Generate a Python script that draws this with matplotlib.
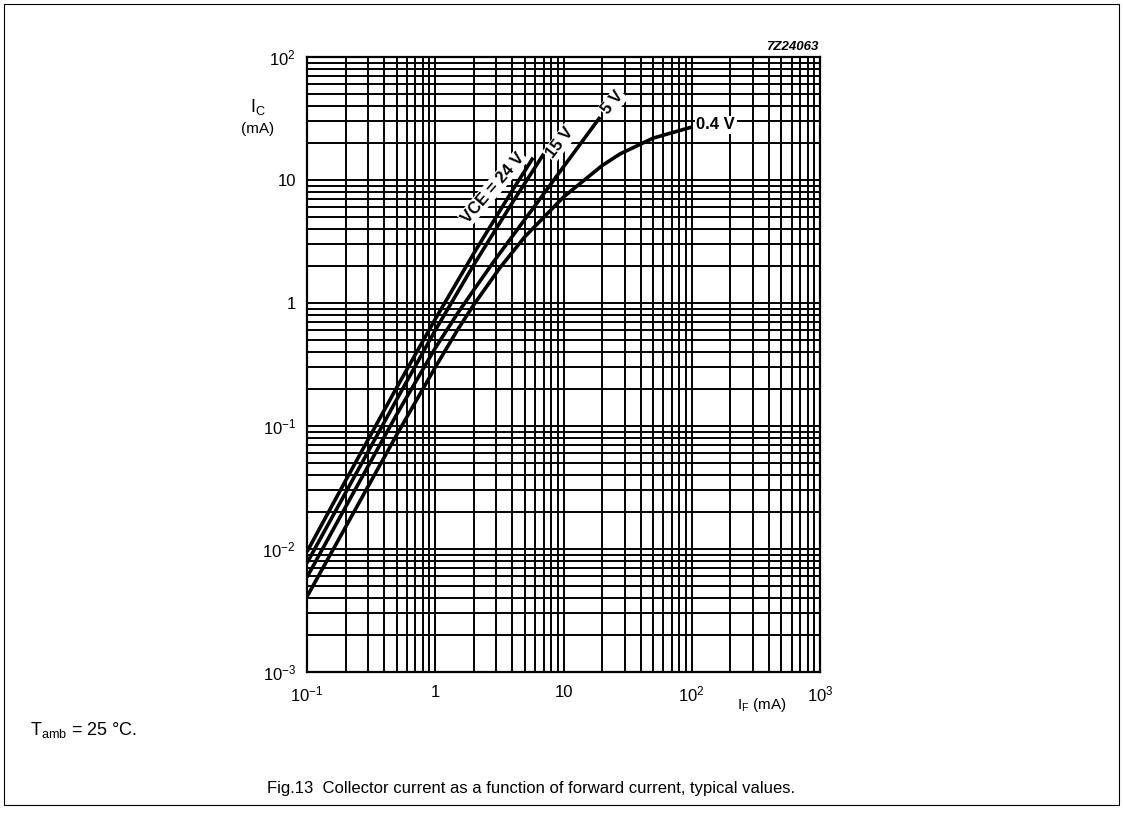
import matplotlib
matplotlib.use("Agg")
import matplotlib.pyplot as plt
from matplotlib.ticker import FixedLocator, FixedFormatter, NullFormatter, LogLocator
from matplotlib.patches import Rectangle


plt.rcParams['font.family'] = ['Liberation Sans', 'DejaVu Sans']
plt.rcParams['mathtext.fontset'] = 'custom'
plt.rcParams['mathtext.rm'] = 'Liberation Sans'
plt.rcParams['mathtext.it'] = 'Liberation Sans'
plt.rcParams['mathtext.default'] = 'regular'


# Curves (IF in mA, IC in mA)

if_24v = [0.1, 0.2, 0.5, 1, 2, 4, 5.8]
ic_24v = [0.0095, 0.036, 0.205, 0.74, 2.54, 8.25, 15.2]

if_15v = [0.1, 0.2, 0.5, 1, 2, 4, 7.4]
ic_15v = [0.0077, 0.0287, 0.164, 0.60, 2.05, 6.57, 17.8]

if_5v = [0.1, 0.2, 0.5, 1, 1.5, 2, 3, 5.8, 10, 19.3]
ic_5v = [0.0059, 0.022, 0.124, 0.43, 0.83, 1.28, 2.33, 5.9, 12.8, 32.5]

if_04v = [0.1, 0.2, 0.5, 1, 1.5, 2, 3.2, 5, 10, 20, 27.6, 50, 102]
ic_04v = [0.0041, 0.0151, 0.0846, 0.30, 0.61, 0.97, 1.94, 3.46, 7.27, 13.1, 16.3, 21.9, 27.1]

curve_labels = ["VCE = 24 V", "15 V", "5 V", "0.4 V"]
label_x   = [2.82, 9.4, 24.3, 154]
label_y   = [8.6, 20, 42.3, 28]
label_rot = [49, 52, 50, 0]

x_ticks = [0.1, 1, 10, 100, 1000]
x_tick_labels = ["$10^{-1}$", "1", "10", "$10^{2}$", "$10^{3}$"]
y_ticks = [0.001, 0.01, 0.1, 1, 10, 100]
y_tick_labels = ["$10^{-3}$", "$10^{-2}$", "$10^{-1}$", "1", "10", "$10^{2}$"]


W, H = 1123, 838
fig = plt.figure(figsize=(W / 100, H / 100), dpi=100)

# outer frame of the datasheet figure
fig.patches.append(Rectangle((4 / W, 1 - 805 / H), 1115 / W, 801 / H,
                             transform=fig.transFigure, fill=False,
                             edgecolor="black", lw=0.8))

ax = fig.add_axes([307 / W, 1 - 672 / H, 513 / W, 615 / H])
ax.set_xscale("log")
ax.set_yscale("log")
ax.set_xlim(0.1, 1000)
ax.set_ylim(0.001, 100)

ax.xaxis.set_major_locator(FixedLocator(x_ticks))
ax.xaxis.set_major_formatter(FixedFormatter(x_tick_labels))
ax.yaxis.set_major_locator(FixedLocator(y_ticks))
ax.yaxis.set_major_formatter(FixedFormatter(y_tick_labels))
ax.xaxis.set_minor_locator(LogLocator(base=10, subs=range(2, 10), numticks=20))
ax.yaxis.set_minor_locator(LogLocator(base=10, subs=range(2, 10), numticks=20))
ax.xaxis.set_minor_formatter(NullFormatter())
ax.yaxis.set_minor_formatter(NullFormatter())

ax.grid(which="both", color="black", lw=1.4)
ax.set_axisbelow(True)
ax.tick_params(which="both", length=0)
ax.tick_params(axis="x", pad=9, labelsize=12)
ax.tick_params(axis="y", pad=8, labelsize=12)
for sp in ax.spines.values():
    sp.set_linewidth(1.6)

for xs, ys in [(if_24v, ic_24v), (if_15v, ic_15v), (if_5v, ic_5v), (if_04v, ic_04v)]:
    ax.plot(xs, ys, color="black", lw=2.6, solid_capstyle="butt", zorder=3)

for txt, lx, ly, rot in zip(curve_labels, label_x, label_y, label_rot):
    ax.text(lx, ly, txt, rotation=rot, ha="center", va="center", fontsize=12,
            fontweight="bold", rotation_mode="anchor", zorder=4,
            bbox=dict(facecolor="white", edgecolor="none", pad=1))

# axis titles, placed as on the datasheet
fig.text(258 / W, 1 - 107 / H, "$I_{C}$", ha="center", va="center", fontsize=13)
fig.text(258 / W, 1 - 129 / H, "(mA)", ha="center", va="center", fontsize=11)
fig.text(762 / W, 1 - 705 / H, "$I_{F}$ (mA)", ha="center", va="center", fontsize=11)
fig.text(818 / W, 1 - 47 / H, "7Z24063", ha="right", va="center", fontsize=9.5,
         fontstyle="italic", fontweight="bold")

fig.text(30 / W, 1 - 730 / H, "$T_{amb}$ = 25 °C.", ha="left", va="center", fontsize=13)
fig.text(531 / W, 1 - 788 / H,
         "Fig.13  Collector current as a function of forward current, typical values.",
         ha="center", va="center", fontsize=12)

fig.savefig("out.png", dpi=100)
